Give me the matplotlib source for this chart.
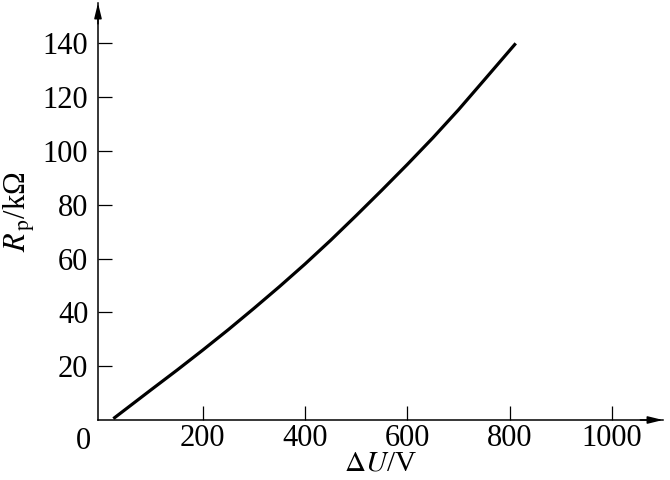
import numpy as np
import matplotlib
matplotlib.use("Agg")
import matplotlib.pyplot as plt

# Data
dU = [25, 100, 150, 200, 250, 300, 350, 400, 450, 500, 550, 600, 650, 700, 750, 812]
Rp = [0.5, 11.4, 18.6, 26, 33.6, 41.5, 49.6, 58, 66.8, 76, 85.4, 95, 104.9, 115.3, 126.3, 140]

xticks = [200, 400, 600, 800, 1000]
yticks = [20, 40, 60, 80, 100, 120, 140]

plt.rcParams['font.family'] = ['Liberation Serif', 'DejaVu Serif']
plt.rcParams['mathtext.fontset'] = 'stix'

fig = plt.figure(figsize=(6.7, 4.8), dpi=100)
ax = fig.add_axes([98 / 670, 60 / 480, 565 / 670, 417 / 480])

ax.plot(dU, Rp, color='black', lw=2.3, solid_capstyle='butt')

ax.set_xlim(-5, 1100)
ax.set_ylim(0, 155)
ax.set_xticks(xticks)
ax.set_yticks(yticks)
ax.tick_params(direction='in', length=10, width=0.9, labelsize=22, color='black')
ax.tick_params(axis='y', pad=7)
ax.tick_params(axis='x', pad=3)

for s in ['top', 'right']:
    ax.spines[s].set_visible(False)
for s in ['left', 'bottom']:
    ax.spines[s].set_linewidth(1.1)

# arrow heads on the axes
arrow = dict(arrowstyle='-|>,head_length=0.9,head_width=0.22', color='black', lw=1.1,
             shrinkA=0, shrinkB=0)
ax.annotate('', xy=(1.0, 0), xytext=(0.96, 0), xycoords='axes fraction', arrowprops=arrow,
            annotation_clip=False)
ax.annotate('', xy=(0, 1.0), xytext=(0, 0.95), xycoords='axes fraction', arrowprops=arrow,
            annotation_clip=False)

# shared origin label
ax.text(-0.012, -0.016, '0', transform=ax.transAxes, fontsize=22, ha='right', va='top')

ax.set_xlabel(r'$\Delta U$/V', fontsize=21, labelpad=-2)
ax.set_ylabel(r'$R_{\,\mathrm{p}}$/kΩ', fontsize=22, labelpad=4)

fig.savefig('out.png', dpi=100)
